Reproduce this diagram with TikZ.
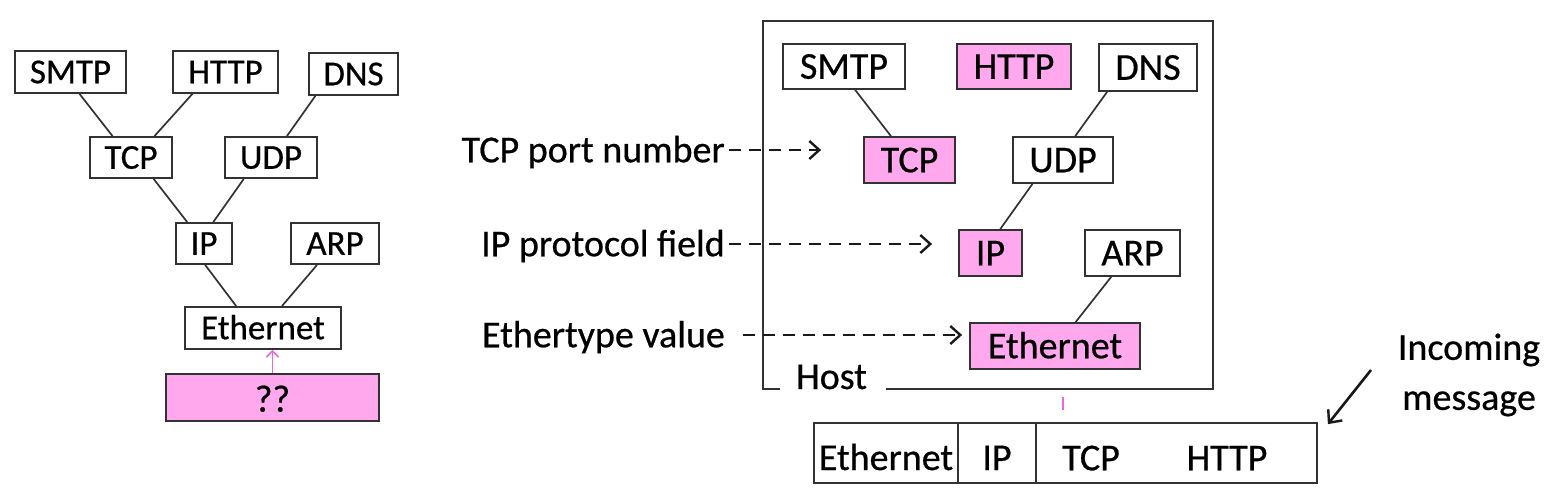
\documentclass[tikz,border=0pt]{standalone}
\usepackage{fontspec}
\setmainfont{Carlito}[FakeBold=0.6]
\usetikzlibrary{arrows.meta,calc}
\definecolor{boxline}{RGB}{50,50,50}
\definecolor{pinkfill}{RGB}{255,168,238}
\definecolor{pinkline}{RGB}{240,100,215}
\begin{document}
\begin{tikzpicture}[x=1pt,y=-1pt,
  lbox/.style={draw=boxline,line width=1.8pt,inner sep=0pt,font=\fontsize{35}{42}\selectfont,text height=22.5pt,text depth=0pt,minimum height=42pt},
  rbox/.style={draw=boxline,line width=1.8pt,inner sep=0pt,font=\fontsize{38}{46}\selectfont,text height=24.5pt,text depth=0pt,minimum height=46pt},
  mbox/.style={draw=boxline,line width=1.8pt,inner sep=0pt,font=\fontsize{38}{46}\selectfont,text height=34pt,text depth=0pt,minimum height=60pt},
  hl/.style={fill=pinkfill},
  lab/.style={font=\fontsize{38}{46}\selectfont,inner sep=0pt,text height=24.5pt,text depth=0pt},
  link/.style={draw=boxline,line width=1.7pt},
  frame/.style={draw=boxline,line width=2pt},
  dasharrow/.style={draw=black!90,line width=2.6pt,dash pattern=on 12pt off 8pt,-{Straight Barb[length=10pt,width=18pt,line width=2.4pt]}},
  blackarrow/.style={draw=black!90,line width=2.6pt,-{Straight Barb[length=10pt,width=18pt,line width=2.4pt]}},
  pinkarrow/.style={draw=pinkline,line width=1.8pt,-{Straight Barb[length=6pt,width=12pt,line width=1.6pt]}}
]
\useasboundingbox (0,0) rectangle (1550,498);

% ---------- left tree ----------
\node[lbox,minimum width=111pt] (lsmtp) at (70.5,72) {SMTP};
\node[lbox,minimum width=105pt] (lhttp) at (225.5,72) {HTTP};
\node[lbox,minimum width=89pt] (ldns) at (353.5,74) {DNS};
\node[lbox,minimum width=82pt,minimum height=41pt] (ltcp) at (131,157.5) {TCP};
\node[lbox,minimum width=92pt,minimum height=41pt] (ludp) at (271,157.5) {UDP};
\node[lbox,minimum width=56pt,minimum height=41pt] (lip) at (204,243.5) {IP};
\node[lbox,minimum width=88pt,minimum height=41pt] (larp) at (335,243.5) {ARP};
\node[lbox,minimum width=156pt] (leth) at (263,328) {Ethernet};
\node[lbox,hl,minimum width=213pt,minimum height=47pt,font=\fontsize{38}{46}\selectfont,text height=28pt] (lunk) at (272.5,397.5) {??};

\draw[link] ($(lsmtp.south west)!0.58!(lsmtp.south east)$) -- ($(ltcp.north west)!0.28!(ltcp.north east)$);
\draw[link] ($(lhttp.south west)!0.19!(lhttp.south east)$) -- ($(ltcp.north west)!0.78!(ltcp.north east)$);
\draw[link] ($(ldns.south west)!0.08!(ldns.south east)$) -- ($(ludp.north west)!0.67!(ludp.north east)$);
\draw[link] ($(ltcp.south west)!0.77!(ltcp.south east)$) -- ($(lip.north west)!0.21!(lip.north east)$);
\draw[link] ($(ludp.south west)!0.21!(ludp.south east)$) -- ($(lip.north west)!0.66!(lip.north east)$);
\draw[link] ($(lip.south west)!0.52!(lip.south east)$) -- ($(leth.north west)!0.33!(leth.north east)$);
\draw[link] ($(larp.south west)!0.30!(larp.south east)$) -- ($(leth.north west)!0.62!(leth.north east)$);
\draw[pinkarrow] (lunk.north) -- (lunk.north |- leth.south);

% ---------- right: host ----------
\node[lab,anchor=base] (host) at (831.5,389) {Host};
\coordinate (hostTL) at (763,21);
\coordinate (hostBR) at (1213,389);
\draw[frame] ([xshift=-16pt]host.base west) -| (hostTL) -| (hostBR) -- ([xshift=19pt]host.base east);

\node[rbox,minimum width=122pt,minimum height=45pt] (rsmtp) at (844,66.5) {SMTP};
\node[rbox,hl,minimum width=114pt,minimum height=45pt] (rhttp) at (1014,66.5) {HTTP};
\node[rbox,minimum width=98pt,minimum height=47pt] (rdns) at (1148,67.5) {DNS};
\node[rbox,hl,minimum width=91pt] (rtcp) at (909.5,160) {TCP};
\node[rbox,minimum width=100pt] (rudp) at (1063,160) {UDP};
\node[rbox,hl,minimum width=63pt] (rip) at (990.5,253) {IP};
\node[rbox,minimum width=95pt] (rarp) at (1132.5,253) {ARP};
\node[rbox,hl,minimum width=170pt] (reth) at (1055,346) {Ethernet};

\draw[link] ($(rsmtp.south west)!0.59!(rsmtp.south east)$) -- ($(rtcp.north west)!0.30!(rtcp.north east)$);
\draw[link] ($(rdns.south west)!0.09!(rdns.south east)$) -- ($(rudp.north west)!0.62!(rudp.north east)$);
\draw[link] ($(rudp.south west)!0.20!(rudp.south east)$) -- ($(rip.north west)!0.65!(rip.north east)$);
\draw[link] ($(rarp.south west)!0.28!(rarp.south east)$) -- ($(reth.north west)!0.62!(reth.north east)$);
\draw[pinkline,line width=1.2pt] ([xshift=8pt,yshift=-27pt]reth.south) -- ([xshift=8pt,yshift=-40pt]reth.south);

% ---------- labels with dashed arrows ----------
\node[lab,anchor=east] (ltcpport) at (725,150) {TCP port number};
\node[lab,anchor=east] (lipproto) at (725,244) {IP protocol field};
\node[lab,anchor=east] (lethtype) at (725,335) {Ethertype value};
\coordinate (tcpend) at ([xshift=-42pt]rtcp.west);
\coordinate (ipend) at ([xshift=-26pt]rip.west);
\coordinate (ethend) at ([xshift=-7pt]reth.west);
\draw[dasharrow] ([xshift=4pt]ltcpport.east) -- (ltcpport.east -| tcpend);
\draw[dasharrow] ([xshift=4pt]lipproto.east) -- (lipproto.east -| ipend);
\draw[dasharrow] ([xshift=18pt]lethtype.east) -- (lethtype.east -| ethend);

% ---------- incoming message ----------
\node[mbox,minimum width=144pt] (meth) at (886,453) {Ethernet};
\node[mbox,minimum width=78pt] (mip) at (997,453) {IP};
\node[mbox,minimum width=281pt] (mrest) at (1176.5,453) {};
\node[lab] (mtcp) at (1091,458) {TCP};
\node[lab] (mhttp) at (1227,458) {HTTP};

\node[font=\fontsize{38}{50}\selectfont,align=center,inner sep=0pt] (incoming) at (1469,375) {Incoming\\message};
\coordinate (instart) at (1371,370);
\draw[blackarrow] (instart) -- ([xshift=10pt,yshift=-2pt]mrest.north east);
\end{tikzpicture}
\end{document}
